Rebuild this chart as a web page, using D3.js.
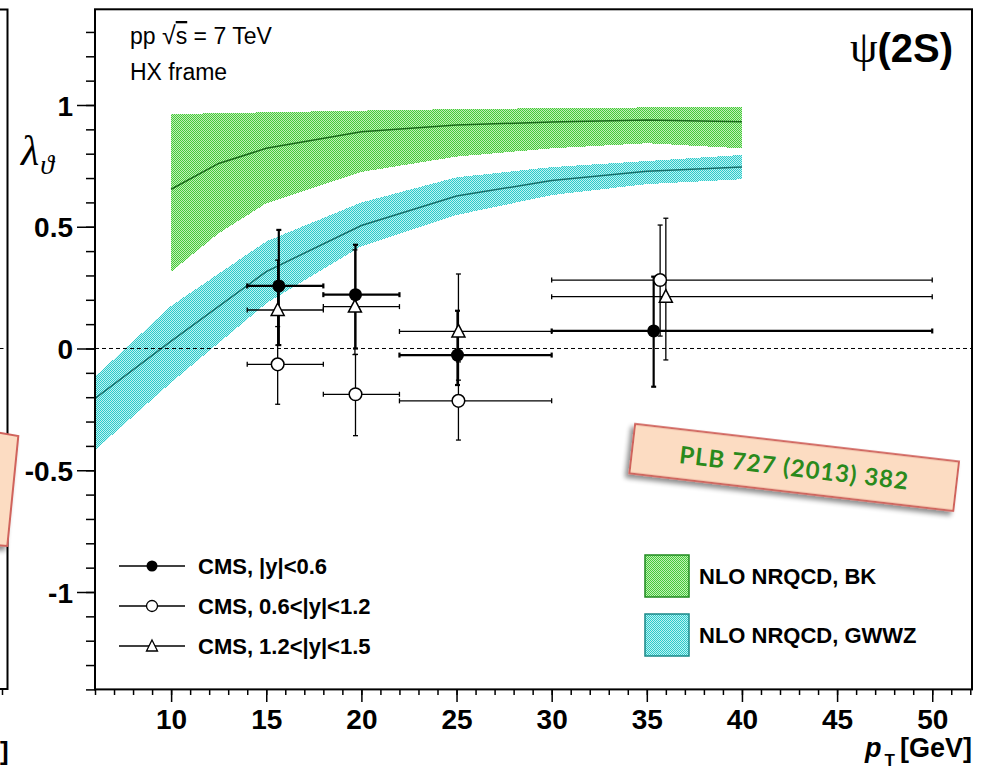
<!DOCTYPE html>
<html>
<head>
<meta charset="utf-8">
<script src="https://cdn.jsdelivr.net/npm/d3@7"></script>
<style>
  html, body { margin: 0; padding: 0; background: #fff; }
  svg { display: block; }
</style>
</head>
<body>
<svg id="chart" width="987" height="771"></svg>
<script>
// ---------------- DATA ----------------
// CMS data: pT bins
const binLow  = [14, 18, 22, 30];
const binHigh = [18, 22, 30, 50];

// |y| < 0.6 (filled circles)
const ptA   = [15.66, 19.69, 25.05, 35.36];
const lamA  = [0.257, 0.221, -0.027, 0.072];
const upA   = [0.230, 0.205, 0.182, 0.223];
const dnA   = [0.243, 0.221, 0.123, 0.229];

// 0.6 < |y| < 1.2 (open circles)
const ptB   = [15.60, 19.69, 25.10, 35.70];
const lamB  = [-0.065, -0.188, -0.215, 0.281];
const upB   = [0.155, 0.164, 0.160, 0.226];
const dnB   = [0.164, 0.170, 0.161, 0.230];

// 1.2 < |y| < 1.5 (open triangles)
const ptC   = [15.60, 19.66, 25.10, 36.00];
const lamC  = [0.158, 0.172, 0.070, 0.213];
const upC   = [0.205, 0.233, 0.236, 0.322];
const dnC   = [0.144, 0.197, 0.200, 0.260];

// NLO NRQCD, BK band
const bkPt  = [10, 12.5, 15, 20, 25, 30, 35, 40];
const bkCen = [0.654, 0.760, 0.822, 0.890, 0.918, 0.930, 0.938, 0.931];
const bkLo  = [0.315, 0.473, 0.596, 0.725, 0.788, 0.822, 0.843, 0.822];
const bkHi  = [0.963, 0.966, 0.970, 0.977, 0.983, 0.987, 0.990, 0.990];

// NLO NRQCD, GWWZ band
const gwPt  = [6, 10, 15, 20, 25, 30, 35, 40];
const gwCen = [-0.205, 0.030, 0.316, 0.505, 0.626, 0.690, 0.728, 0.745];
const gwLo  = [-0.417, -0.140, 0.185, 0.420, 0.548, 0.630, 0.675, 0.695];
const gwHi  = [-0.116, 0.175, 0.440, 0.600, 0.703, 0.745, 0.770, 0.795];

// Axis ticks
const xMajor = [10, 15, 20, 25, 30, 35, 40, 45, 50];
const xMinor = d3.range(6, 53, 1);
const yMajor = [-1, -0.5, 0, 0.5, 1];
const yMajorLabels = ["-1", "-0.5", "0", "0.5", "1"];
const yMinor = d3.range(-14, 14, 1).map(v => v / 10);

const legendCMS = ["CMS, |y|<0.6", "CMS, 0.6<|y|<1.2", "CMS, 1.2<|y|<1.5"];
const legendTheory = ["NLO NRQCD, BK", "NLO NRQCD, GWWZ"];

// ---------------- SETUP ----------------
const svg = d3.select("#chart");
const F = "'Liberation Sans', Arial, Helvetica, sans-serif";
const FS = "'Liberation Serif', 'DejaVu Serif', serif";

const x = d3.scaleLinear().domain([6, 52.09]).range([95, 972]);
const y = d3.scaleLinear().domain([-1.4, 1.393]).range([689.4, 9.3]);

const defs = svg.append("defs");
function checker(id, a, b) {
  const p = defs.append("pattern").attr("id", id).attr("patternUnits", "userSpaceOnUse")
    .attr("width", 2).attr("height", 2);
  p.append("rect").attr("width", 2).attr("height", 2).attr("fill", b);
  p.append("rect").attr("x", 0).attr("y", 0).attr("width", 1).attr("height", 1).attr("fill", a);
  p.append("rect").attr("x", 1).attr("y", 1).attr("width", 1).attr("height", 1).attr("fill", a);
}
checker("pGreen", "#45c93c", "#c2efb8");
checker("pCyan", "#2ccaca", "#bff2f2");

const shadow = defs.append("filter").attr("id", "shadow").attr("x", "-20%").attr("y", "-40%")
  .attr("width", "140%").attr("height", "180%");
shadow.append("feGaussianBlur").attr("in", "SourceAlpha").attr("stdDeviation", 2.5);
shadow.append("feOffset").attr("dx", -3).attr("dy", 4).attr("result", "ob");
shadow.append("feComponentTransfer").append("feFuncA").attr("type", "linear").attr("slope", 0.45);
const mrg = shadow.append("feMerge");
mrg.append("feMergeNode");
mrg.append("feMergeNode").attr("in", "SourceGraphic");

defs.append("clipPath").attr("id", "frameClip").append("rect")
  .attr("x", 95).attr("y", 9.3).attr("width", 877).attr("height", 680.1);

// ---------------- LEFT PANEL REMNANTS ----------------
const lp = svg.append("g");
lp.append("path").attr("d", "M0,9.5 H7.5 V689 H0").attr("fill", "none").attr("stroke", "#000").attr("stroke-width", 2);
lp.append("line").attr("x1", 2.5).attr("x2", 2.5).attr("y1", 689).attr("y2", 695).attr("stroke", "#000").attr("stroke-width", 1.5);
lp.append("line").attr("x1", 0).attr("x2", 3.5).attr("y1", y(0)).attr("y2", y(0)).attr("stroke", "#000").attr("stroke-width", 1);
lp.append("text").attr("x", 0).attr("y", 760).attr("font-family", F).attr("font-weight", "bold")
  .attr("font-size", 26).text("]");

// ---------------- BANDS ----------------
const plot = svg.append("g").attr("clip-path", "url(#frameClip)");
function band(pts, lo, hi, fill) {
  const d = pts.map((p, i) => ({ p, lo: lo[i], hi: hi[i] }));
  plot.append("path").datum(d)
    .attr("d", d3.area().x(e => x(e.p)).y0(e => y(e.lo)).y1(e => y(e.hi)))
    .attr("fill", fill).attr("shape-rendering", "crispEdges");
}
function cline(pts, c, col) {
  const d = pts.map((p, i) => ({ p, v: c[i] }));
  plot.append("path").datum(d)
    .attr("d", d3.line().x(e => x(e.p)).y(e => y(e.v)))
    .attr("fill", "none").attr("stroke", col).attr("stroke-width", 1.5);
}
band(gwPt, gwLo, gwHi, "url(#pCyan)");
band(bkPt, bkLo, bkHi, "url(#pGreen)");
cline(gwPt, gwCen, "#156e6a");
cline(bkPt, bkCen, "#1a6a1a");

// zero line
plot.append("line").attr("x1", 95).attr("x2", 972).attr("y1", y(0)).attr("y2", y(0))
  .attr("stroke", "#000").attr("stroke-width", 1).attr("stroke-dasharray", "4,3");

// ---------------- AXES ----------------
const axG = svg.append("g");
// X minor
axG.append("g").attr("transform", "translate(0,689)")
  .call(d3.axisBottom(x).tickValues(xMinor).tickSize(6).tickSizeOuter(0).tickFormat(""))
  .call(g => g.select(".domain").remove())
  .call(g => g.selectAll("line").attr("stroke-width", 1.5));
// X major
axG.append("g").attr("transform", "translate(0,689)")
  .call(d3.axisBottom(x).tickValues(xMajor).tickSize(13).tickSizeOuter(0).tickFormat(d => String(d)))
  .call(g => g.select(".domain").remove())
  .call(g => g.selectAll("line").attr("stroke-width", 1.5))
  .call(g => g.selectAll("text").attr("y", 40).attr("dy", null)
    .attr("font-family", F).attr("font-weight", "bold").attr("font-size", 28).attr("fill", "#000"));
// Y minor
axG.append("g").attr("transform", "translate(95,0)")
  .call(d3.axisLeft(y).tickValues(yMinor).tickSize(9).tickSizeOuter(0).tickFormat(""))
  .call(g => g.select(".domain").remove())
  .call(g => g.selectAll("line").attr("stroke-width", 1.5));
// Y major
axG.append("g").attr("transform", "translate(95,0)")
  .call(d3.axisLeft(y).tickValues(yMajor).tickSize(18).tickPadding(4).tickSizeOuter(0)
    .tickFormat((d, i) => yMajorLabels[i]))
  .call(g => g.select(".domain").remove())
  .call(g => g.selectAll("line").attr("stroke-width", 1.5))
  .call(g => g.selectAll("text").attr("dy", "0.36em")
    .attr("font-family", F).attr("font-weight", "bold").attr("font-size", 28).attr("fill", "#000"));

// frame
svg.append("rect").attr("x", 95).attr("y", 9.3).attr("width", 877).attr("height", 680.1)
  .attr("fill", "none").attr("stroke", "#000").attr("stroke-width", 2);

// ---------------- DATA POINTS ----------------
const series = [
  { pt: ptC, lam: lamC, up: upC, dn: dnC, type: "tri", w: 1.3 },
  { pt: ptB, lam: lamB, up: upB, dn: dnB, type: "open", w: 1.3 },
  { pt: ptA, lam: lamA, up: upA, dn: dnA, type: "filled", w: 2.2 }
];
const eg = svg.append("g");
series.forEach(s => {
  s.pt.forEach((p, i) => {
    const cx = x(p), cy = y(s.lam[i]);
    const yt = y(s.lam[i] + s.up[i]), yb = y(s.lam[i] - s.dn[i]);
    const xl = x(binLow[i]), xr = x(binHigh[i]);
    const st = l => l.attr("stroke", "#000").attr("stroke-width", s.w);
    st(eg.append("line").attr("x1", cx).attr("x2", cx).attr("y1", yt).attr("y2", yb));
    st(eg.append("line").attr("x1", cx - 2.5).attr("x2", cx + 2.5).attr("y1", yt).attr("y2", yt));
    st(eg.append("line").attr("x1", cx - 2.5).attr("x2", cx + 2.5).attr("y1", yb).attr("y2", yb));
    st(eg.append("line").attr("x1", xl).attr("x2", xr).attr("y1", cy).attr("y2", cy));
    st(eg.append("line").attr("x1", xl).attr("x2", xl).attr("y1", cy - 2.5).attr("y2", cy + 2.5));
    st(eg.append("line").attr("x1", xr).attr("x2", xr).attr("y1", cy - 2.5).attr("y2", cy + 2.5));
  });
});
function marker(g, type, cx, cy) {
  if (type === "filled") {
    g.append("circle").attr("cx", cx).attr("cy", cy).attr("r", 6.5).attr("fill", "#000");
  } else if (type === "open") {
    g.append("circle").attr("cx", cx).attr("cy", cy).attr("r", 6.3).attr("fill", "#fff")
      .attr("stroke", "#000").attr("stroke-width", 1.5);
  } else {
    g.append("path").attr("transform", `translate(${cx},${cy})`)
      .attr("d", "M0,-7 L6.5,5.5 L-6.5,5.5 Z").attr("fill", "#fff")
      .attr("stroke", "#000").attr("stroke-width", 1.5);
  }
}
const mg = svg.append("g");
series.forEach(s => s.pt.forEach((p, i) => marker(mg, s.type, x(p), y(s.lam[i]))));

// ---------------- TEXTS ----------------
const t1 = svg.append("text").attr("x", 130).attr("y", 44).attr("font-family", F).attr("font-size", 23);
t1.append("tspan").text("pp ");
t1.append("tspan").attr("font-size", 25).text("\u221A");
t1.append("tspan").attr("text-decoration", "overline").text("s");
t1.append("tspan").text(" = 7 TeV");
svg.append("text").attr("x", 130).attr("y", 80).attr("font-family", F).attr("font-size", 23).text("HX frame");

const ps = svg.append("text").attr("x", 953).attr("y", 62).attr("text-anchor", "end");
ps.append("tspan").attr("font-family", FS).attr("font-size", 44).text("\u03C8");
ps.append("tspan").attr("font-family", F).attr("font-weight", "bold").attr("font-size", 40).text("(2S)");

// y title
const yt = svg.append("text").attr("x", 21).attr("y", 165).attr("font-family", FS).attr("font-style", "italic");
yt.append("tspan").attr("font-size", 42).text("\u03BB");
yt.append("tspan").attr("font-size", 28).attr("dy", 9).attr("dx", 1).text("\u03D1");

// x title
const xt = svg.append("text").attr("x", 972).attr("y", 757).attr("text-anchor", "end")
  .attr("font-family", F).attr("font-weight", "bold").attr("font-size", 27);
xt.append("tspan").attr("font-style", "italic").text("p");
xt.append("tspan").attr("font-size", 17).attr("dy", 9).attr("dx", 3).text("T");
xt.append("tspan").attr("dy", -9).attr("dx", 5).text("[GeV]");

// ---------------- LEGENDS ----------------
const legRows = [566, 606, 646];
const legTypes = ["filled", "open", "tri"];
const lg = svg.append("g");
legRows.forEach((ry, i) => {
  lg.append("line").attr("x1", 119).attr("x2", 185).attr("y1", ry).attr("y2", ry)
    .attr("stroke", "#000").attr("stroke-width", 1.3);
  const m = lg.append("g");
  if (legTypes[i] === "filled") m.append("circle").attr("cx", 152).attr("cy", ry).attr("r", 5.5).attr("fill", "#000");
  else if (legTypes[i] === "open") m.append("circle").attr("cx", 152).attr("cy", ry).attr("r", 5.5).attr("fill", "#fff").attr("stroke", "#000").attr("stroke-width", 1.3);
  else m.append("path").attr("transform", `translate(152,${ry})`).attr("d", "M0,-6 L5.5,5 L-5.5,5 Z")
    .attr("fill", "#fff").attr("stroke", "#000").attr("stroke-width", 1.3);
  lg.append("text").attr("x", 198).attr("y", ry + 8).attr("font-family", F).attr("font-weight", "bold")
    .attr("font-size", 22).text(legendCMS[i]);
});
const boxRows = [555, 614];
const boxFills = ["url(#pGreen)", "url(#pCyan)"];
const boxStrokes = ["#1f8a1f", "#1a8888"];
boxRows.forEach((by, i) => {
  lg.append("rect").attr("x", 645).attr("y", by).attr("width", 44).attr("height", 42)
    .attr("fill", boxFills[i]).attr("stroke", boxStrokes[i]).attr("stroke-width", 1.5);
  lg.append("text").attr("x", 699).attr("y", by + 29).attr("font-family", F).attr("font-weight", "bold")
    .attr("font-size", 22).text(legendTheory[i]);
});

// ---------------- STAMPS ----------------
const stamp = svg.append("g").attr("transform", "translate(794.2,467.4) rotate(6.63)");
stamp.append("rect").attr("x", -163).attr("y", -24.8).attr("width", 326).attr("height", 49.6)
  .attr("fill", "#fcdcc2").attr("stroke", "#d0635c").attr("stroke-width", 2).attr("filter", "url(#shadow)");
stamp.append("text").attr("x", 0).attr("y", 9).attr("text-anchor", "middle")
  .attr("font-family", "'Lato', 'DejaVu Sans', sans-serif").attr("font-weight", "bold").attr("font-size", 24)
  .attr("fill", "#2a8a1c").attr("letter-spacing", 1).text("PLB 727 (2013) 382");

svg.append("path").attr("d", "M-5,432 L18.3,436 L7.3,546 L-5,545 Z")
  .attr("fill", "#fcdcc2").attr("stroke", "#d0635c").attr("stroke-width", 2).attr("filter", "url(#shadow)");
</script>
</body>
</html>
